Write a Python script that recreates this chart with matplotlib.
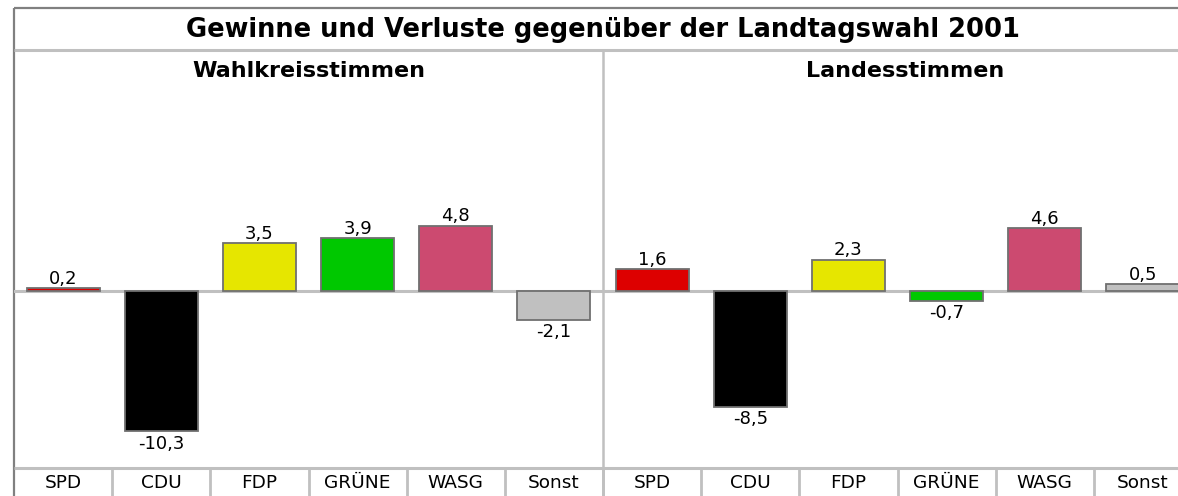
import matplotlib
matplotlib.use("Agg")
import matplotlib.pyplot as plt

title = "Gewinne und Verluste gegenüber der Landtagswahl 2001"
panel_titles = ["Wahlkreisstimmen", "Landesstimmen"]
parties = ["SPD", "CDU", "FDP", "GRÜNE", "WASG", "Sonst"]
colors = ["#dd0000", "#000000", "#e6e600", "#00c800", "#cc4a70", "#c0c0c0"]
wahlkreis = [0.2, -10.3, 3.5, 3.9, 4.8, -2.1]
landes = [1.6, -8.5, 2.3, -0.7, 4.6, 0.5]

W, H = 1178, 496
fig = plt.figure(figsize=(W / 100, H / 100), dpi=100)
plt.rcParams['font.family'] = ['DejaVu Sans']

FONT = 'DejaVu Sans'
left_px, right_px = 14, 14 + 1178
top_px, title_sep, cat_top = 8, 50, 468
zero_px, scale = 291, 13.6

def fx(px):
    return px / W

def fy(py):
    return 1 - py / H

# background axes in pixel coordinates for frame lines
bg = fig.add_axes([0, 0, 1, 1])
bg.set_xlim(0, W)
bg.set_ylim(H, 0)
bg.axis('off')

# main bar axes
ax = fig.add_axes([fx(left_px), fy(cat_top), (right_px - left_px) / W, (cat_top - title_sep) / H])
ax.set_xlim(0, 12)
ax.set_ylim(-(cat_top - zero_px) / scale, (zero_px - title_sep) / scale)
ax.axis('off')

ax.axhline(0, color="#c0c0c0", lw=2.2, zorder=1)

values = wahlkreis + landes
cols = colors + colors
xs = [i + 0.5 for i in range(12)]
ax.bar(xs, values, width=0.745, color=cols, edgecolor="#707070", linewidth=1.3, zorder=2)

for x, v in zip(xs, values):
    label = f"{v:.1f}".replace('.', ',')
    if v >= 0:
        ax.annotate(label, (x, v), xytext=(0, 0.3), textcoords='offset points',
                    ha='center', va='bottom', fontsize=13, family=FONT, color='black')
    else:
        ax.annotate(label, (x, v), xytext=(0, -2.5), textcoords='offset points',
                    ha='center', va='top', fontsize=13, family=FONT, color='black')

# frame lines
light = "#c0c0c0"
dark = "#808080"
bg.plot([left_px, W + 5], [top_px, top_px], color=dark, lw=1.6, solid_capstyle='butt')
bg.plot([left_px, left_px], [top_px, H + 5], color=dark, lw=1.6, solid_capstyle='butt')
bg.plot([left_px, W + 5], [title_sep, title_sep], color=light, lw=2.2, solid_capstyle='butt')
mid_px = left_px + 6 * (right_px - left_px) / 12
bg.plot([mid_px, mid_px], [title_sep, H + 5], color=light, lw=1.8, solid_capstyle='butt')
bg.plot([left_px, W + 5], [cat_top, cat_top], color=light, lw=2.2, solid_capstyle='butt')
cell = (right_px - left_px) / 12
for i in range(1, 12):
    xp = left_px + i * cell
    bg.plot([xp, xp], [cat_top, H + 5], color=light, lw=2.0, solid_capstyle='butt')

# texts
bg.text((left_px + right_px) / 2, 30, title, ha='center', va='center',
        fontsize=18.5, fontweight='bold', family=FONT)
bg.text((left_px + mid_px) / 2, 71, panel_titles[0], ha='center', va='center',
        fontsize=16, fontweight='bold', family=FONT)
bg.text((mid_px + right_px) / 2 + 8, 71, panel_titles[1], ha='center', va='center',
        fontsize=16, fontweight='bold', family=FONT)
for i, p in enumerate(parties + parties):
    bg.text(left_px + (i + 0.5) * cell, 483, p, ha='center', va='center',
            fontsize=13.3, family=FONT)

fig.savefig("out.png", dpi=100, facecolor='white')
